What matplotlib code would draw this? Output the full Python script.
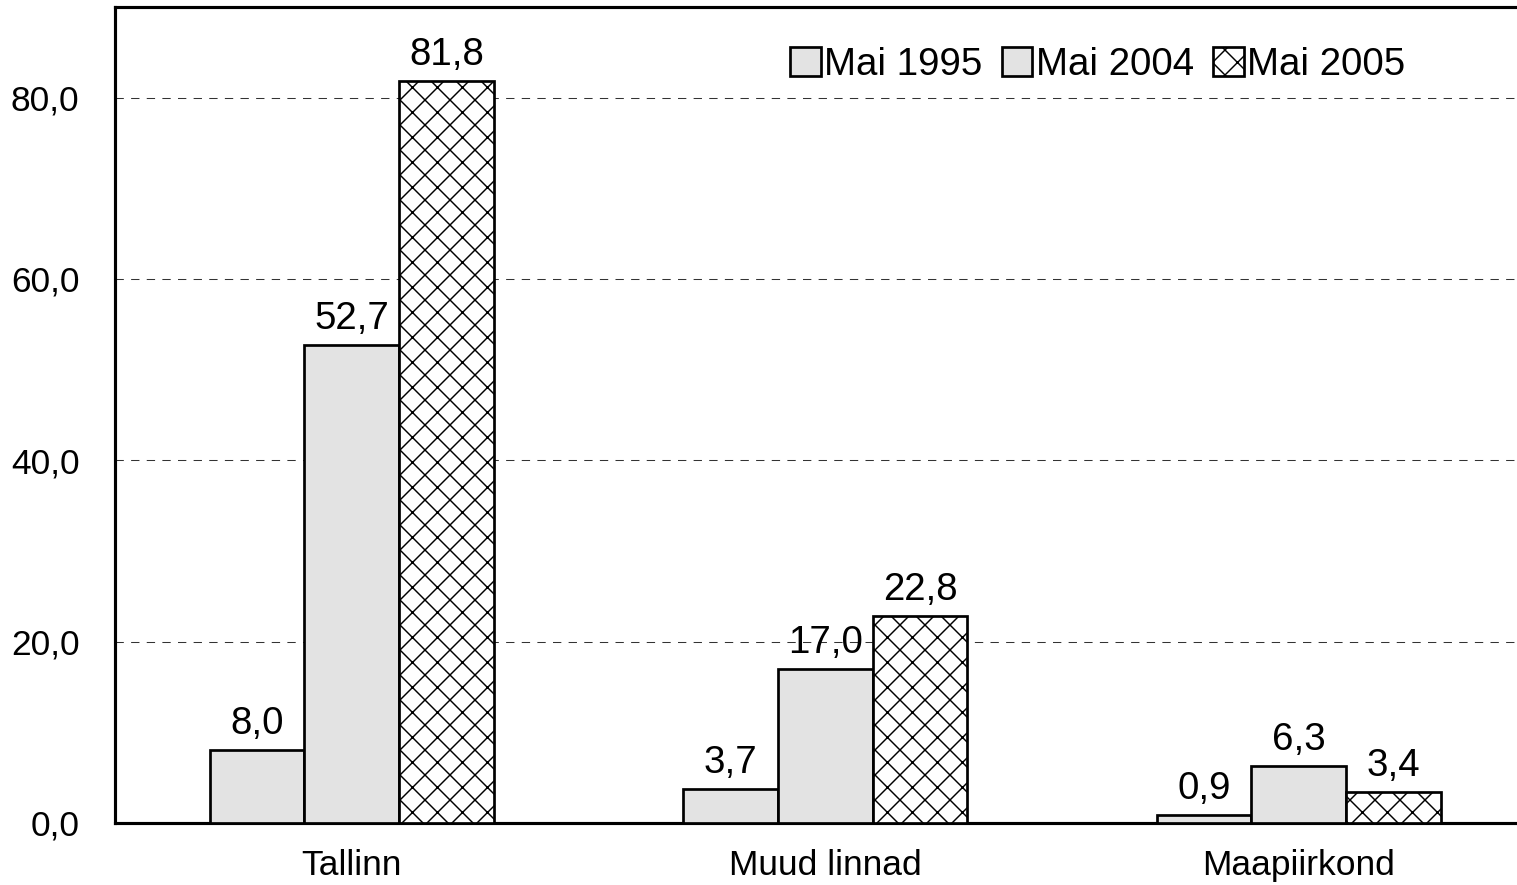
import numpy as np
import matplotlib
matplotlib.use("Agg")
import matplotlib.pyplot as plt
from matplotlib.ticker import FuncFormatter

# Regions and survey periods
regions = ["Tallinn", "Muud linnad", "Maapiirkond"]
periods = ["Mai 1995", "Mai 2004", "Mai 2005"]
may_1995 = [8.0, 3.7, 0.9]
may_2004 = [52.7, 17.0, 6.3]
may_2005 = [81.8, 22.8, 3.4]
y_ticks = [0, 20, 40, 60, 80]

plt.rcParams["font.family"] = ["Liberation Sans", "DejaVu Sans"]
plt.rcParams["hatch.linewidth"] = 0.7
plt.rcParams["lines.scale_dashes"] = False


def comma(v, _pos=None):
    return f"{v:.1f}".replace(".", ",")


fig = plt.figure(figsize=(1517 / 150, 885 / 150), dpi=150)
ax = fig.add_axes([115 / 1517, 1 - 823 / 885, 1420.5 / 1517, 816 / 885])

x = np.arange(len(regions))
w = 0.2
styles = [
    dict(facecolor="#e3e3e3", hatch=None),
    dict(facecolor="#e3e3e3", hatch=None),
    dict(facecolor="white", hatch="xx"),
]
for i, (vals, label, st) in enumerate(zip([may_1995, may_2004, may_2005], periods, styles)):
    bars = ax.bar(x + (i - 1) * w, vals, w, label=label, edgecolor="black",
                  linewidth=1.3, zorder=3, **st)
    ax.bar_label(bars, labels=[comma(v) for v in vals], padding=4, fontsize=18.5)

ax.set_xlim(-0.5, 2.5)
ax.set_ylim(0, 90)
ax.set_xticks(x)
ax.set_xticklabels(regions)
ax.set_yticks(y_ticks)
ax.yaxis.set_major_formatter(FuncFormatter(comma))
ax.tick_params(axis="both", length=0, labelsize=17)
ax.tick_params(axis="y", pad=17)
ax.tick_params(axis="x", pad=12.5)

ax.grid(axis="y", color="#333333", linewidth=0.5, linestyle=(0, (4, 3.5)))
ax.set_axisbelow(True)
for side in ["left", "top", "bottom"]:
    ax.spines[side].set_linewidth(1.5)
ax.spines["right"].set_visible(False)

ax.legend(loc="upper right", bbox_to_anchor=((1405 - 115) / 1420.5, 0.951), ncol=3,
          frameon=False, fontsize=18.5, handlelength=0.8, handleheight=0.75,
          handletextpad=0.08, columnspacing=0.5, borderaxespad=0.0, borderpad=0.0)

fig.savefig("out.png", dpi=150)
